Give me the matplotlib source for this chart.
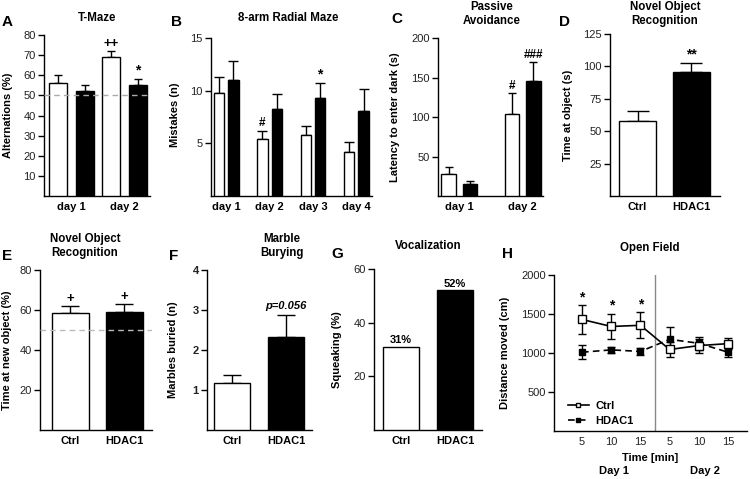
import matplotlib
matplotlib.use('Agg')
import matplotlib.pyplot as plt
import numpy as np

plt.rcParams['font.family'] = ['Liberation Sans', 'DejaVu Sans']
plt.rcParams['font.size'] = 8
plt.rcParams['axes.linewidth'] = 1.0

# ---------------- data ----------------
# A  T-Maze
tmaze_days = ['day 1', 'day 2']
tmaze_ctrl = [56, 69]
tmaze_ctrl_err = [4, 3]
tmaze_hdac = [52, 55]
tmaze_hdac_err = [3, 3]
tmaze_marks_ctrl = ['', '++']
tmaze_marks_hdac = ['', '*']

# B  8-arm radial maze
radial_days = ['day 1', 'day 2', 'day 3', 'day 4']
radial_ctrl = [9.8, 5.4, 5.8, 4.2]
radial_ctrl_err = [1.5, 0.8, 0.8, 0.9]
radial_hdac = [11.0, 8.3, 9.3, 8.1]
radial_hdac_err = [1.8, 1.4, 1.4, 2.1]
radial_marks_ctrl = ['', '#', '', '']
radial_marks_hdac = ['', '', '*', '']

# C  Passive avoidance
pa_days = ['day 1', 'day 2']
pa_ctrl = [28, 104]
pa_ctrl_err = [9, 26]
pa_hdac = [15, 146]
pa_hdac_err = [4, 23]
pa_marks_ctrl = ['', '#']
pa_marks_hdac = ['', '###']

groups = ['Ctrl', 'HDAC1']
# D  Novel object recognition (time)
nor_time = [57.5, 96]
nor_time_err = [8, 6.5]
nor_time_marks = ['', '**']

# E  Novel object recognition (%)
nor_pct = [58.5, 59.2]
nor_pct_err = [3.3, 3.8]
nor_pct_marks = ['+', '+']

# F  Marble burying
marbles = [1.17, 2.33]
marbles_err = [0.2, 0.55]
marbles_marks = ['', 'p=0.056']

# G  Vocalization
squeak = [31, 52]
squeak_labels = ['31%', '52%']

# H  Open field
of_ticks = ['5', '10', '15', '5', '10', '15']
of_ctrl = [1430, 1340, 1355, 1045, 1095, 1120]
of_ctrl_err = [180, 165, 165, 95, 90, 75]
of_hdac = [1010, 1040, 1020, 1175, 1125, 1010]
of_hdac_err = [90, 40, 40, 155, 85, 60]
of_marks = ['*', '*', '*', '', '', '']

# ---------------- layout helpers ----------------
W, H = 750, 479
fig = plt.figure(figsize=(7.5, 4.79), dpi=100)
TXT = '#222222'


def px_axes(x0, y0, x1, y1):
    ax = fig.add_axes([x0 / W, 1 - y1 / H, (x1 - x0) / W, (y1 - y0) / H])
    for s in ['top', 'right']:
        ax.spines[s].set_visible(False)
    ax.tick_params(axis='y', direction='out', length=4, width=1.0,
                   labelsize=8, labelcolor=TXT, pad=2)
    ax.tick_params(axis='x', length=0, labelsize=8, pad=4)
    return ax


def ftext(x, y, s, **kw):
    fig.text(x / W, 1 - y / H, s, **kw)


def letter(x, y, s):
    ftext(x, y, s, fontsize=11, fontweight='bold', ha='left', va='center')


def ylabel(x, y, s):
    ftext(x, y, s, rotation=90, fontsize=8, fontweight='bold', ha='center', va='center')


def bars(ax, pos, vals, errs, color, width, capsize):
    ax.bar(pos, vals, width=width, color=color, edgecolor='black', linewidth=1.0, zorder=3)
    if errs is not None:
        ax.errorbar(pos, vals, yerr=[np.zeros(len(vals)), errs], fmt='none',
                    ecolor='black', elinewidth=1.0, capsize=capsize, capthick=1.0, zorder=2)


def mark_size(l):
    if set(l) == {'*'}:
        return 10
    if set(l) == {'+'}:
        return 9.5
    return 8.5 if set(l) == {'#'} else 8


def marks(ax, pos, tops, labels, **kw):
    for p, t, l in zip(pos, tops, labels):
        if l:
            ax.annotate(l, (p, t), xytext=(0, 1.0), textcoords='offset points',
                        ha='center', va='bottom', fontsize=mark_size(l), fontweight='bold', **kw)


def xlabels_bold(ax, pos, labels):
    ax.set_xticks(pos)
    ax.set_xticklabels(labels, fontweight='bold')


# ---------------- A ----------------
ax = px_axes(44, 35, 150, 196)
gx = np.arange(len(tmaze_days)) * 2.0
bw = 0.67
bars(ax, gx, tmaze_ctrl, tmaze_ctrl_err, 'white', bw, 3)
bars(ax, gx + 1, tmaze_hdac, tmaze_hdac_err, 'black', bw, 3)
ax.axhline(50, color='#aaaaaa', ls='--', lw=1.0, dashes=(4, 3), zorder=4)
marks(ax, gx, np.add(tmaze_ctrl, tmaze_ctrl_err), tmaze_marks_ctrl)
marks(ax, gx + 1, np.add(tmaze_hdac, tmaze_hdac_err), tmaze_marks_hdac)
ax.set_ylim(0, 80)
ax.set_yticks(np.arange(10, 81, 10))
ax.set_xlim(-0.52, 3.45)
xlabels_bold(ax, gx + 0.5, tmaze_days)
ftext(97, 18, 'T-Maze', fontsize=8.3, fontweight='bold', ha='center', va='center')
ylabel(8, 115, 'Alternations (%)')
letter(2, 22, 'A')

# ---------------- B ----------------
ax = px_axes(211, 38, 372, 196)
gx = np.arange(len(radial_days))
off, bw = 0.166, 0.24
bars(ax, gx - off, radial_ctrl, radial_ctrl_err, 'white', bw, 3.5)
bars(ax, gx + off, radial_hdac, radial_hdac_err, 'black', bw, 3.5)
marks(ax, gx - off, np.add(radial_ctrl, radial_ctrl_err), radial_marks_ctrl)
marks(ax, gx + off, np.add(radial_hdac, radial_hdac_err), radial_marks_hdac)
ax.set_ylim(0, 15)
ax.set_yticks([5, 10, 15])
ax.set_xlim(-0.35, 3.36)
xlabels_bold(ax, gx, radial_days)
ftext(288, 18, '8-arm Radial Maze', fontsize=8.3, fontweight='bold', ha='center', va='center')
ylabel(175, 115, 'Mistakes (n)')
letter(171, 22, 'B')

# ---------------- C ----------------
ax = px_axes(438, 38, 543, 196)
gx = np.arange(len(pa_days))
off, bw = 0.166, 0.23
bars(ax, gx - off, pa_ctrl, pa_ctrl_err, 'white', bw, 3)
bars(ax, gx + off, pa_hdac, pa_hdac_err, 'black', bw, 3)
marks(ax, gx - off, np.add(pa_ctrl, pa_ctrl_err), pa_marks_ctrl)
marks(ax, gx + off, np.add(pa_hdac, pa_hdac_err), pa_marks_hdac)
ax.set_ylim(0, 200)
ax.set_yticks([50, 100, 150, 200])
ax.set_xlim(-0.336, 1.32)
xlabels_bold(ax, gx, pa_days)
ftext(492, 14, 'Passive\nAvoidance', fontsize=8.3, fontweight='bold', ha='center', va='center',
      linespacing=1.15)
ylabel(395, 117, 'Latency to enter dark (s)')
letter(391, 19, 'C')

# ---------------- D ----------------
ax = px_axes(610, 34, 720, 196)
gx = np.arange(len(groups))
bw = 0.685
colors = ['white', 'black']
for i in range(2):
    bars(ax, [gx[i]], [nor_time[i]], [nor_time_err[i]], colors[i], bw, 8)
marks(ax, gx, np.add(nor_time, nor_time_err), nor_time_marks)
ax.set_ylim(0, 125)
ax.set_yticks([25, 50, 75, 100, 125])
ax.set_xlim(-0.51, 1.53)
xlabels_bold(ax, gx, groups)
ftext(665, 14, 'Novel Object\nRecognition', fontsize=8.3, fontweight='bold', ha='center',
      va='center', linespacing=1.15)
ylabel(568, 115, 'Time at object (s)')
letter(559, 22, 'D')

# ---------------- E ----------------
ax = px_axes(40, 270, 152, 430)
gx = np.arange(len(groups))
for i in range(2):
    bars(ax, [gx[i]], [nor_pct[i]], [nor_pct_err[i]], colors[i], 0.685, 6.5)
ax.axhline(50, color='#bbbbbb', ls='--', lw=1.0, dashes=(4, 3), zorder=4)
marks(ax, gx, np.add(nor_pct, nor_pct_err), nor_pct_marks)
ax.set_ylim(0, 80)
ax.set_yticks([20, 40, 60, 80])
ax.set_xlim(-0.565, 1.51)
xlabels_bold(ax, gx, groups)
ftext(85, 246, 'Novel Object\nRecognition', fontsize=8.3, fontweight='bold', ha='center',
      va='center', linespacing=1.15)
ylabel(7, 350, 'Time at new object (%)')
letter(2, 256, 'E')

# ---------------- F ----------------
ax = px_axes(207, 270, 312, 430)
gx = np.arange(len(groups))
for i in range(2):
    bars(ax, [gx[i]], [marbles[i]], [marbles_err[i]], colors[i], 0.667, 6.5)
tops = np.add(marbles, marbles_err)
for p, t, l in zip(gx, tops, marbles_marks):
    if l:
        ax.annotate(l, (p, t), xytext=(0, 2.5), textcoords='offset points', ha='center',
                    va='bottom', fontsize=8, fontweight='bold', fontstyle='italic')
ax.set_ylim(0, 4)
ax.set_yticks([1, 2, 3, 4])
for lb in ax.get_yticklabels():
    lb.set_fontweight('bold')
ax.set_xlim(-0.463, 1.48)
xlabels_bold(ax, gx, groups)
ftext(282, 246, 'Marble\nBurying', fontsize=8.3, fontweight='bold', ha='center',
      va='center', linespacing=1.15)
ylabel(173, 350, 'Marbles buried (n)')
letter(169, 256, 'F')

# ---------------- G ----------------
ax = px_axes(374, 269, 482, 430)
gx = np.arange(len(groups))
for i in range(2):
    bars(ax, [gx[i]], [squeak[i]], None, colors[i], 0.667, 0)
marks(ax, gx, squeak, squeak_labels)
ax.set_ylim(0, 60)
ax.set_yticks([20, 40, 60])
ax.set_xlim(-0.5, 1.5)
xlabels_bold(ax, gx, groups)
ftext(428, 246, 'Vocalization', fontsize=8.3, fontweight='bold', ha='center', va='center')
ylabel(337, 350, 'Squeaking (%)')
letter(331, 254, 'G')

# ---------------- H ----------------
ax = px_axes(554, 275, 747, 431)
px = np.arange(1, len(of_ticks) + 1)
ax.errorbar(px, of_ctrl, yerr=of_ctrl_err, fmt='none', ecolor='black', elinewidth=1.0,
            capsize=3, capthick=1.0, zorder=2)
ax.errorbar(px, of_hdac, yerr=of_hdac_err, fmt='none', ecolor='black', elinewidth=1.0,
            capsize=3, capthick=1.0, zorder=2)
ax.plot(px, of_ctrl, '-', color='black', lw=1.2, marker='s', markersize=5.5,
        markerfacecolor='white', markeredgecolor='black', markeredgewidth=1.0, label='Ctrl', zorder=4)
ax.plot(px, of_hdac, '--', color='black', lw=1.2, dashes=(4, 2.5), marker='s', markersize=5,
        markerfacecolor='black', markeredgecolor='black', label='HDAC1', zorder=3)
ax.axvline(3.5, color='#888888', lw=1.0, zorder=1)
for p, v, e, l in zip(px, of_ctrl, of_ctrl_err, of_marks):
    if l:
        ax.annotate(l, (p, v + e), xytext=(0, 1.0), textcoords='offset points',
                    ha='center', va='bottom', fontsize=mark_size(l), fontweight='bold')
ax.set_ylim(0, 2000)
ax.set_yticks([500, 1000, 1500, 2000])
ax.set_xlim(0.04, 6.65)
ax.set_xticks(px)
ax.set_xticklabels(of_ticks)
ax.tick_params(axis='x', labelcolor=TXT)
leg = ax.legend(loc='lower left', bbox_to_anchor=(0.03, -0.02), frameon=False, fontsize=8,
                handlelength=1.9, handletextpad=0.6, labelspacing=0.5, borderaxespad=0.3,
                markerscale=0.65)
for t in leg.get_texts():
    t.set_fontweight('bold')
ftext(650, 458, 'Time [min]', fontsize=8, fontweight='bold', ha='center', va='center')
ftext(614, 471, 'Day 1', fontsize=8, fontweight='bold', ha='center', va='center')
ftext(705, 471, 'Day 2', fontsize=8, fontweight='bold', ha='center', va='center')
ftext(650, 248, 'Open Field', fontsize=8.3, fontweight='bold', ha='center', va='center')
ylabel(505, 353, 'Distance moved (cm)')
letter(502, 254, 'H')

fig.savefig('out.png', dpi=100)
